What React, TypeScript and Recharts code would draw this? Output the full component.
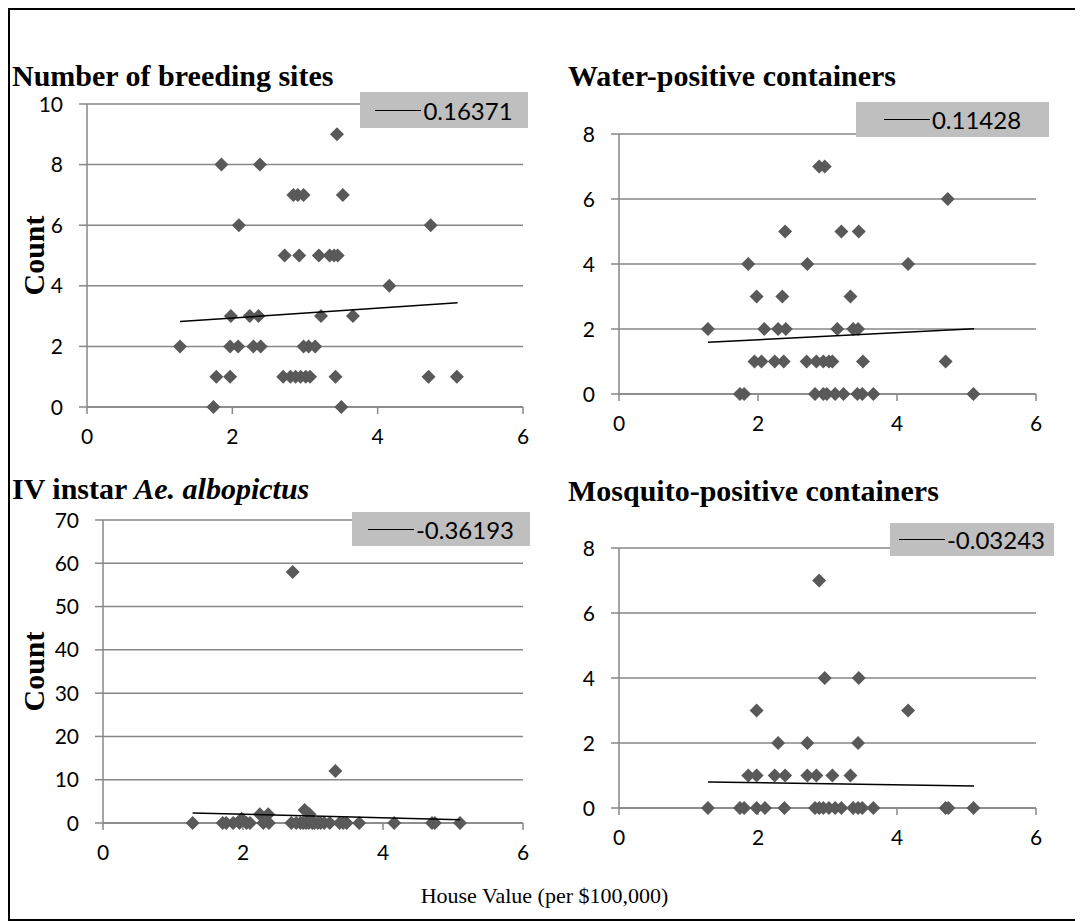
import React from 'react';
import { ScatterChart, Scatter, XAxis, YAxis, CartesianGrid, Legend } from 'recharts';

// x = house value (per $100,000), y = count
const breedingSites: [number, number][] = [
  [3.44, 9], [1.85, 8], [2.38, 8],
  [2.84, 7], [2.9, 7], [2.98, 7], [3.52, 7],
  [2.09, 6], [4.73, 6],
  [2.72, 5], [2.92, 5], [3.19, 5], [3.34, 5], [3.4, 5], [3.45, 5],
  [4.16, 4],
  [1.98, 3], [2.24, 3], [2.36, 3], [3.22, 3], [3.66, 3],
  [1.28, 2], [1.97, 2], [2.08, 2], [2.29, 2], [2.39, 2], [2.98, 2], [3.05, 2], [3.14, 2],
  [1.78, 1], [1.97, 1], [2.7, 1], [2.8, 1], [2.87, 1], [2.94, 1], [3.01, 1], [3.07, 1], [3.42, 1], [4.7, 1], [5.09, 1],
  [1.74, 0], [3.5, 0],
];

const waterPositive: [number, number][] = [
  [2.88, 7], [2.96, 7],
  [4.73, 6],
  [2.39, 5], [3.2, 5], [3.45, 5],
  [1.86, 4], [2.71, 4], [4.16, 4],
  [1.98, 3], [2.35, 3], [3.33, 3],
  [1.28, 2], [2.09, 2], [2.29, 2], [2.4, 2], [3.14, 2], [3.37, 2], [3.44, 2],
  [1.95, 1], [2.05, 1], [2.24, 1], [2.37, 1], [2.7, 1], [2.84, 1], [2.94, 1], [3.02, 1], [3.07, 1], [3.51, 1], [4.7, 1],
  [1.74, 0], [1.8, 0], [2.82, 0], [2.94, 0], [2.99, 0], [3.11, 0], [3.23, 0], [3.43, 0], [3.5, 0], [3.66, 0], [5.1, 0],
];

const instarLarvae: [number, number][] = [
  [2.71, 58], [3.32, 12], [2.88, 3], [2.24, 2], [2.36, 2], [2.95, 2], [1.98, 1],
  [1.28, 0], [1.71, 0], [1.76, 0], [1.86, 0], [1.95, 0], [2.05, 0], [2.1, 0], [2.29, 0], [2.37, 0],
  [2.69, 0], [2.76, 0], [2.82, 0], [2.86, 0], [2.9, 0], [2.94, 0], [2.99, 0], [3.02, 0], [3.07, 0],
  [3.11, 0], [3.16, 0], [3.24, 0], [3.38, 0], [3.43, 0], [3.48, 0], [3.66, 0], [4.16, 0], [4.7, 0], [4.74, 0], [5.1, 0],
];

const mosquitoPositive: [number, number][] = [
  [2.88, 7], [2.96, 4], [3.45, 4], [1.98, 3], [4.16, 3], [2.29, 2], [2.71, 2], [3.44, 2],
  [1.86, 1], [1.98, 1], [2.24, 1], [2.39, 1], [2.71, 1], [2.84, 1], [3.07, 1], [3.33, 1],
  [1.28, 0], [1.74, 0], [1.8, 0], [1.98, 0], [2.1, 0], [2.38, 0], [2.82, 0], [2.88, 0], [2.94, 0], [3.02, 0],
  [3.11, 0], [3.2, 0], [3.37, 0], [3.44, 0], [3.5, 0], [3.66, 0], [4.7, 0], [4.74, 0], [5.1, 0],
];

// linear trendline end points
const breedingTrend: [number, number][] = [[1.28, 2.82], [5.1, 3.44]];
const waterTrend: [number, number][] = [[1.28, 1.59], [5.11, 2.01]];
const instarTrend: [number, number][] = [[1.28, 2.3], [5.1, 0.77]];
const mosquitoTrend: [number, number][] = [[1.28, 0.8], [5.11, 0.68]];

const correlations = ['0.16371', '0.11428', '-0.36193', '-0.03243'];

const xTicks = [0, 2, 4, 6];
const ticksTo10 = [0, 2, 4, 6, 8, 10];
const ticksTo8 = [0, 2, 4, 6, 8];
const ticksTo70 = [0, 10, 20, 30, 40, 50, 60, 70];

const GRID = '#878787';
const MARK = '#595959';
const SANS = 'Lato, sans-serif';
const SERIF = '"Liberation Serif", "Times New Roman", serif';

const toPoints = (rows: [number, number][]) => rows.map(([x, y]) => ({ x, y }));

const Diamond = (props: any) => {
  const { cx, cy } = props;
  if (cx == null || cy == null) return <g />;
  const r = 7;
  return <path d={`M${cx},${cy - r}L${cx + r},${cy}L${cx},${cy + r}L${cx - r},${cy}Z`} fill={MARK} />;
};

// tick text drawn at the spot recharts hands over
const XTick = (props: any) => (
  <text x={props.x} y={props.y} dy="0.72em" textAnchor="middle" fontFamily={SANS} fontSize={21} fill="#000">
    {props.payload.value}
  </text>
);

const YTick = (props: any) => (
  <text x={props.x} y={props.y} dy="0.36em" textAnchor="end" fontFamily={SANS} fontSize={21} fill="#000">
    {props.payload.value}
  </text>
);

const CountLabel = (props: any) => {
  const { viewBox, shift } = props;
  if (!viewBox) return null;
  const x = viewBox.x + shift;
  const y = viewBox.y + viewBox.height / 2;
  return (
    <text
      x={x}
      y={y}
      transform={`rotate(-90 ${x} ${y})`}
      textAnchor="middle"
      dominantBaseline="central"
      style={{ fontFamily: SERIF, fontSize: 30, fontWeight: 'bold', fill: '#000' }}
    >
      Count
    </text>
  );
};

interface Box { left: number; top: number; width: number; height: number }

interface PanelProps {
  plot: Box;           // page coordinates of the plot area
  legend: Box;         // page coordinates of the grey key
  yMax: number;
  yTicks: number[];
  rows: [number, number][];
  trend: [number, number][];
  r: string;
  countX?: number;
}

const YW = 100;
const MT = 40;
const MR = 40;
const XH = 50;

const Panel: React.FC<PanelProps> = ({ plot, legend, yMax, yTicks, rows, trend, r, countX }) => {
  const left = plot.left - YW;
  const top = plot.top - MT;
  const width = plot.width + YW + MR;
  const height = plot.height + MT + XH;
  return (
    <div style={{ position: 'absolute', left: left - 10, top: top - 10 }}>
      <ScatterChart width={width} height={height} margin={{ top: MT, right: MR, bottom: 0, left: 0 }}>
        <CartesianGrid vertical={false} stroke={GRID} strokeWidth={1.5} />
        <XAxis
          type="number"
          dataKey="x"
          domain={[0, 6]}
          ticks={xTicks}
          height={XH}
          tickSize={7}
          tickMargin={15}
          tick={<XTick />}
          stroke={GRID}
          strokeWidth={1.5}
        />
        <YAxis
          type="number"
          dataKey="y"
          domain={[0, yMax]}
          ticks={yTicks}
          width={YW}
          tickSize={8}
          tickMargin={16}
          tick={<YTick />}
          stroke={GRID}
          strokeWidth={1.5}
          label={countX !== undefined ? <CountLabel shift={countX - left} /> : undefined}
        />
        <Scatter data={toPoints(rows)} shape={<Diamond />} isAnimationActive={false} />
        <Scatter
          data={toPoints(trend)}
          line={{ stroke: '#000', strokeWidth: 1.5 }}
          shape={() => <g />}
          isAnimationActive={false}
        />
        <Legend
          layout="horizontal"
          verticalAlign="middle"
          align="center"
          wrapperStyle={{ left: legend.left - left, top: legend.top - top, width: legend.width, height: legend.height }}
          content={() => (
            <div
              style={{
                width: legend.width,
                height: legend.height,
                background: '#bfbfbf',
                display: 'flex',
                alignItems: 'center',
                justifyContent: 'center',
                fontFamily: SANS,
                fontSize: 24,
                color: '#000',
              }}
            >
              <span style={{ display: 'inline-block', width: 46, borderTop: '1.5px solid #000', marginRight: 2 }} />
              {r}
            </div>
          )}
        />
      </ScatterChart>
    </div>
  );
};

const titleStyle: React.CSSProperties = {
  position: 'absolute',
  fontFamily: SERIF,
  fontWeight: 'bold',
  fontSize: 30,
  lineHeight: '30px',
  whiteSpace: 'nowrap',
  color: '#000',
};

export default function App() {
  return (
    <div
      style={{
        position: 'relative',
        width: 1073,
        height: 913,
        border: '2px solid #000',
        boxSizing: 'border-box',
        background: '#fff',
        overflow: 'hidden',
      }}
    >
      <div style={{ ...titleStyle, left: 2, top: 51 }}>Number of breeding sites</div>
      <div style={{ ...titleStyle, left: 558, top: 51 }}>Water-positive containers</div>
      <div style={{ ...titleStyle, left: 2, top: 464 }}>
        IV instar <i>Ae. albopictus</i>
      </div>
      <div style={{ ...titleStyle, left: 558, top: 466 }}>Mosquito-positive containers</div>

      <Panel
        plot={{ left: 87, top: 104, width: 436, height: 303 }}
        legend={{ left: 360, top: 92, width: 168, height: 36 }}
        yMax={10}
        yTicks={ticksTo10}
        rows={breedingSites}
        trend={breedingTrend}
        r={correlations[0]}
        countX={33}
      />
      <Panel
        plot={{ left: 619, top: 134, width: 417, height: 260 }}
        legend={{ left: 856, top: 102, width: 193, height: 35 }}
        yMax={8}
        yTicks={ticksTo8}
        rows={waterPositive}
        trend={waterTrend}
        r={correlations[1]}
      />
      <Panel
        plot={{ left: 103, top: 520, width: 420, height: 303 }}
        legend={{ left: 352, top: 512, width: 178, height: 34 }}
        yMax={70}
        yTicks={ticksTo70}
        rows={instarLarvae}
        trend={instarTrend}
        r={correlations[2]}
        countX={33}
      />
      <Panel
        plot={{ left: 619, top: 548, width: 417, height: 260 }}
        legend={{ left: 890, top: 523, width: 164, height: 33 }}
        yMax={8}
        yTicks={ticksTo8}
        rows={mosquitoPositive}
        trend={mosquitoTrend}
        r={correlations[3]}
      />

      <div
        style={{
          position: 'absolute',
          left: 0,
          width: 1069,
          top: 875,
          textAlign: 'center',
          fontFamily: SERIF,
          fontSize: 22,
          lineHeight: '22px',
          color: '#000',
        }}
      >
        House Value (per $100,000)
      </div>
    </div>
  );
}
